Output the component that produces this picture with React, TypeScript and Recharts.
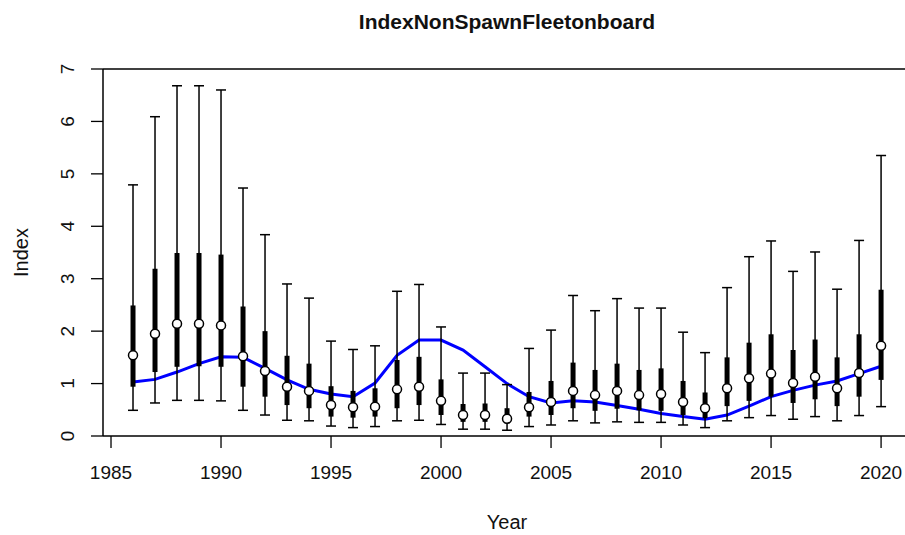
import {
  ComposedChart,
  XAxis,
  YAxis,
  Line,
  Scatter,
  ErrorBar,
  ReferenceLine,
} from "recharts";

// survey years
const years = [
  1986, 1987, 1988, 1989, 1990, 1991, 1992, 1993, 1994, 1995, 1996, 1997,
  1998, 1999, 2000, 2001, 2002, 2003, 2004, 2005, 2006, 2007, 2008, 2009,
  2010, 2011, 2012, 2013, 2014, 2015, 2016, 2017, 2018, 2019, 2020,
];

// upper whisker
const hi = [
  4.79, 6.09, 6.68, 6.68, 6.6, 4.73, 3.84, 2.9, 2.63, 1.81, 1.65, 1.72,
  2.76, 2.89, 2.08, 1.2, 1.2, 0.98, 1.67, 2.02, 2.68, 2.39, 2.62, 2.44,
  2.44, 1.98, 1.59, 2.83, 3.42, 3.72, 3.14, 3.51, 2.8, 3.73, 5.35,
];

// upper quartile
const q3 = [
  2.49, 3.19, 3.49, 3.49, 3.46, 2.47, 2.0, 1.53, 1.38, 0.95, 0.86, 0.91,
  1.45, 1.51, 1.08, 0.61, 0.62, 0.53, 0.84, 1.05, 1.4, 1.26, 1.38, 1.26,
  1.29, 1.05, 0.83, 1.5, 1.78, 1.94, 1.64, 1.84, 1.5, 1.94, 2.79,
];

// median index
const med = [
  1.54, 1.95, 2.14, 2.14, 2.11, 1.52, 1.24, 0.94, 0.86, 0.59, 0.55, 0.56,
  0.89, 0.94, 0.67, 0.4, 0.4, 0.33, 0.55, 0.65, 0.86, 0.78, 0.86, 0.78,
  0.8, 0.65, 0.53, 0.91, 1.1, 1.19, 1.01, 1.13, 0.91, 1.2, 1.72,
];

// lower quartile
const q1 = [
  0.94, 1.22, 1.32, 1.33, 1.32, 0.94, 0.75, 0.59, 0.53, 0.37, 0.35, 0.37,
  0.53, 0.59, 0.4, 0.27, 0.27, 0.24, 0.37, 0.4, 0.53, 0.48, 0.52, 0.49,
  0.48, 0.4, 0.34, 0.57, 0.67, 0.75, 0.63, 0.7, 0.57, 0.75, 1.07,
];

// lower whisker
const lo = [
  0.49, 0.63, 0.68, 0.68, 0.67, 0.49, 0.4, 0.3, 0.29, 0.19, 0.16, 0.18,
  0.29, 0.3, 0.22, 0.13, 0.13, 0.11, 0.18, 0.21, 0.29, 0.25, 0.27, 0.26,
  0.26, 0.21, 0.16, 0.29, 0.35, 0.39, 0.32, 0.37, 0.29, 0.39, 0.56,
];

// fitted trend
const fit = [
  1.03, 1.08, 1.22, 1.38, 1.51, 1.5, 1.29, 1.07, 0.89, 0.8, 0.75, 1.01,
  1.54, 1.83, 1.83, 1.64, 1.32, 1.0, 0.75, 0.63, 0.67, 0.65, 0.58, 0.51,
  0.43, 0.37, 0.32, 0.4, 0.57, 0.75, 0.87, 0.97, 1.05, 1.19, 1.33,
];

const xTicks = [1985, 1990, 1995, 2000, 2005, 2010, 2015, 2020];
const yTicks = [0, 1, 2, 3, 4, 5, 6, 7];

const data = years.map((year, i) => ({
  year,
  med: med[i],
  fit: fit[i],
  whisker: [med[i] - lo[i], hi[i] - med[i]],
  box: [med[i] - q1[i], q3[i] - med[i]],
}));

const FONT = "'Liberation Sans', Arial, Helvetica, sans-serif";

const YTick = ({ x, y, payload }: any) => (
  <text
    x={x - 15}
    y={y}
    transform={`rotate(-90 ${x - 15} ${y})`}
    textAnchor="middle"
    fontSize={19}
    fontFamily={FONT}
    fill="#111"
  >
    {payload.value}
  </text>
);

const XTick = ({ x, y, payload }: any) => (
  <text
    x={x}
    y={y + 29}
    textAnchor="middle"
    fontSize={19}
    fontFamily={FONT}
    fill="#111"
  >
    {payload.value}
  </text>
);

const Dot = ({ cx, cy }: any) => (
  <circle cx={cx} cy={cy} r={4.5} fill="#fff" stroke="#000" strokeWidth={1.5} />
);

export default function App() {
  return (
    <div
      style={{
        position: "absolute",
        left: 0,
        top: 0,
        width: 905,
        height: 535,
        overflow: "hidden",
        background: "#fff",
      }}
    >
      <div
        style={{
          position: "absolute",
          left: 0,
          top: 11,
          width: 1014,
          textAlign: "center",
          fontFamily: FONT,
          fontWeight: "bold",
          fontSize: 21,
          lineHeight: "21px",
          color: "#111",
        }}
      >
        IndexNonSpawnFleetonboard
      </div>
      <ComposedChart
        width={925}
        height={535}
        data={data}
        margin={{ top: 69, right: 14, bottom: 0, left: 0 }}
      >
        <XAxis
          dataKey="year"
          type="number"
          domain={[1984.636, 2021.36]}
          ticks={xTicks}
          allowDataOverflow
          height={99}
          tickSize={12}
          tick={<XTick />}
          axisLine={{ stroke: "#000", strokeWidth: 1.5 }}
          tickLine={{ stroke: "#000", strokeWidth: 1.3 }}
          label={{
            content: ({ viewBox }: any) => (
              <text
                x={viewBox.x + viewBox.width / 2}
                y={529}
                textAnchor="middle"
                fontSize={20}
                fontFamily={FONT}
                fill="#111"
              >
                Year
              </text>
            ),
          }}
        />
        <YAxis
          type="number"
          domain={[0, 7]}
          ticks={yTicks}
          width={103}
          tickSize={12}
          tick={<YTick />}
          axisLine={{ stroke: "#000", strokeWidth: 1.5 }}
          tickLine={{ stroke: "#000", strokeWidth: 1.3 }}
          label={{
            content: ({ viewBox }: any) => {
              const cy = viewBox.y + viewBox.height / 2;
              return (
                <text
                  x={28}
                  y={cy}
                  transform={`rotate(-90 28 ${cy})`}
                  textAnchor="middle"
                  fontSize={20}
                  fontFamily={FONT}
                  fill="#111"
                >
                  Index
                </text>
              );
            },
          }}
        />
        <ReferenceLine y={7} stroke="#000" strokeWidth={1.5} />
        <Line
          dataKey="fit"
          type="linear"
          stroke="#0000ff"
          strokeWidth={3}
          dot={false}
          isAnimationActive={false}
        />
        <Scatter dataKey="med" shape={<Dot />} isAnimationActive={false}>
          <ErrorBar
            dataKey="whisker"
            direction="y"
            width={5}
            stroke="#000"
            strokeWidth={1.5}
            isAnimationActive={false}
          />
          <ErrorBar
            dataKey="box"
            direction="y"
            width={0}
            stroke="#000"
            strokeWidth={5}
            isAnimationActive={false}
          />
        </Scatter>
      </ComposedChart>
    </div>
  );
}
